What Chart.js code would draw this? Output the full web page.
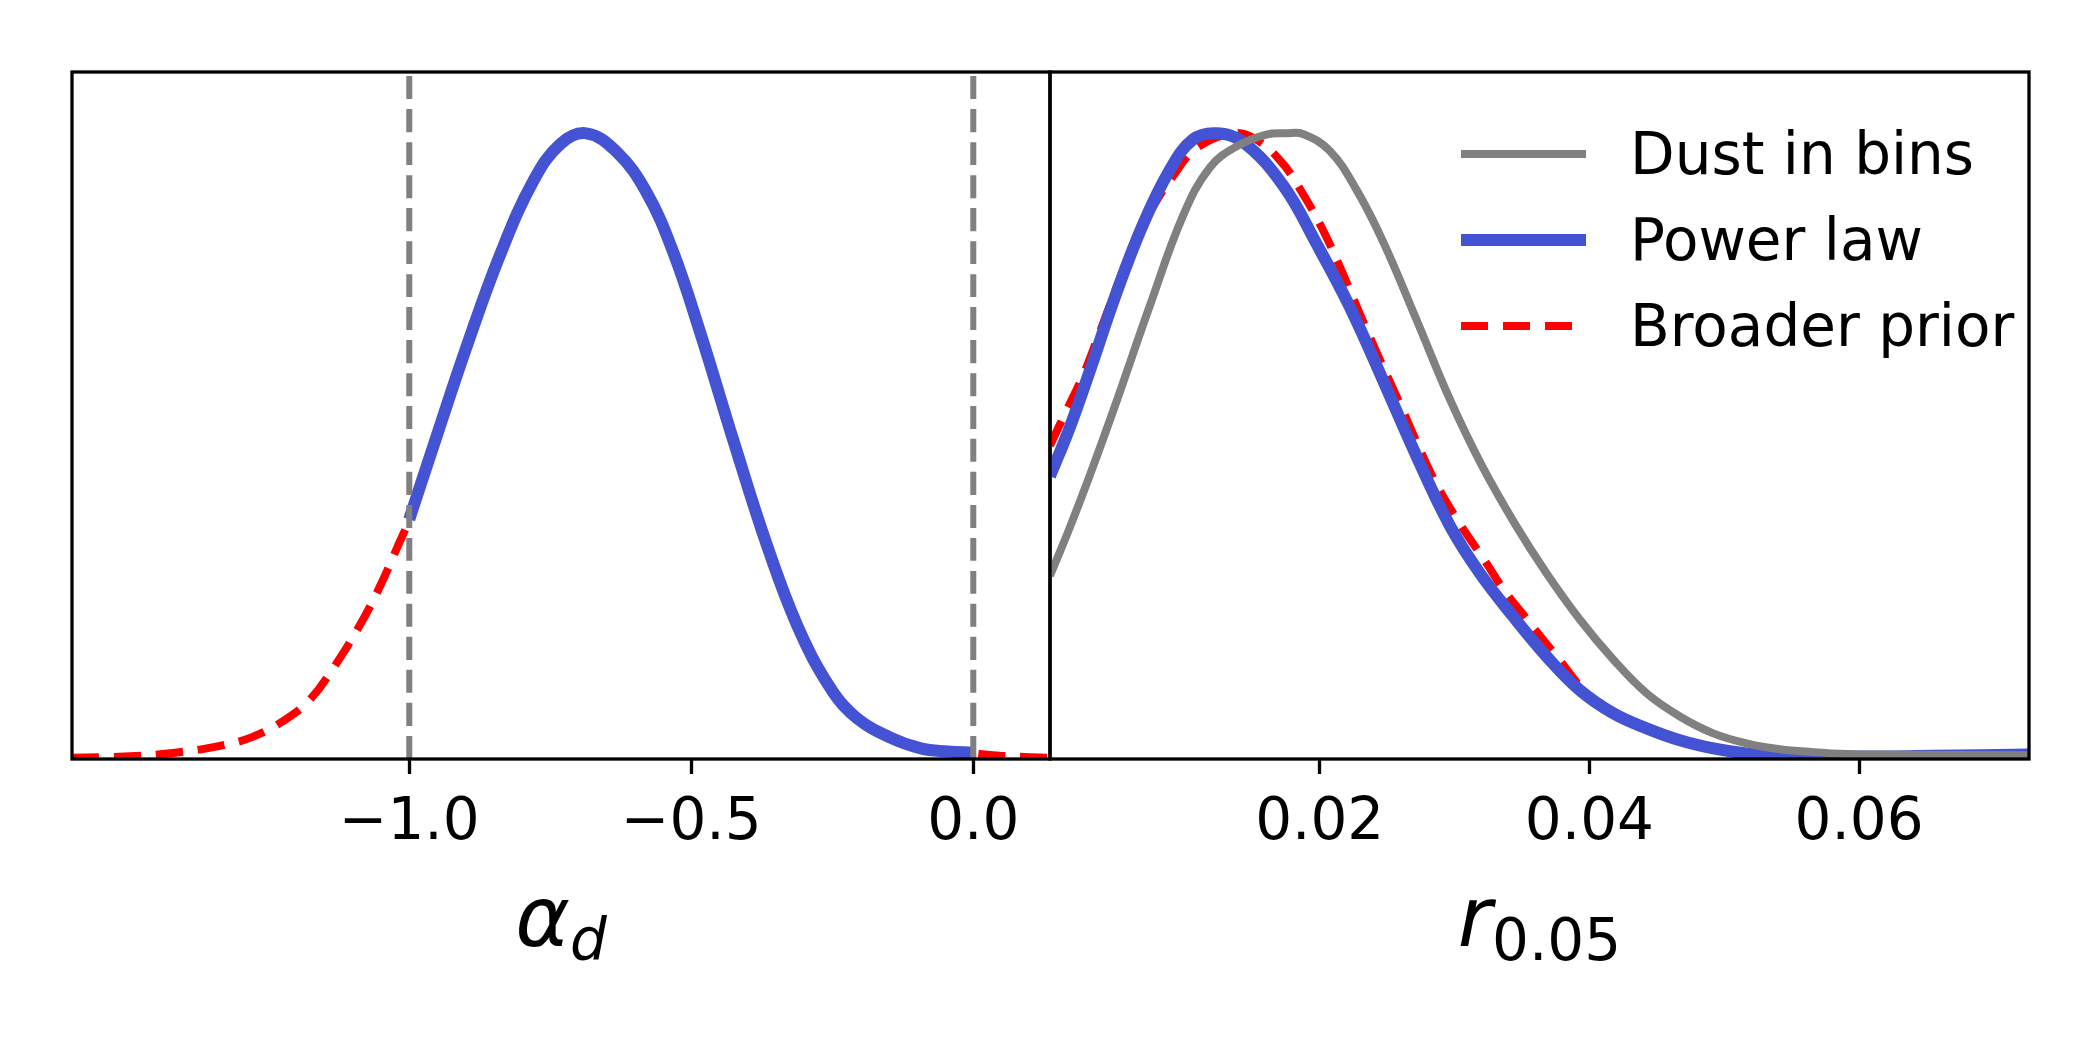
<!DOCTYPE html>
<html>
<head>
<meta charset="utf-8">
<script src="https://cdn.jsdelivr.net/npm/chart.js@4.4.1/dist/chart.umd.min.js"></script>
<style>
  html, body { margin: 0; padding: 0; background: #fff; }
  #wrap { position: relative; width: 2100px; height: 1050px; }
  canvas { position: absolute; left: 0; top: 0; }
</style>
</head>
<body>
<div id="wrap">
  <canvas id="alphaChart" width="2100" height="1050"></canvas>
  <canvas id="rChart" width="2100" height="1050"></canvas>
</div>
<script>
// --- data (curves normalised to peak = 1) ---

// left panel: alpha_d
const alphaTicks = [-1.0, -0.5, 0.0];
const alphaPriorEdges = [-1.0, 0.0];

const alphaPowerX = [-1.0, -0.957, -0.898, -0.839, -0.780, -0.732, -0.686, -0.632, -0.579, -0.532,
                     -0.484, -0.425, -0.366, -0.307, -0.248, -0.206, -0.149, -0.093, -0.045, 0.0];
const alphaPowerY = [0.383, 0.501, 0.660, 0.806, 0.924, 0.983, 1.0, 0.970, 0.905, 0.810,
                     0.681, 0.508, 0.342, 0.203, 0.106, 0.065, 0.035, 0.017, 0.012, 0.010];

const alphaBroadX = [-1.598, -1.505, -1.415, -1.336, -1.279, -1.223, -1.177, -1.132, -1.087, -1.053, -1.019,
                     -1.0, -0.957, -0.898, -0.839, -0.780, -0.732, -0.686, -0.632, -0.579, -0.532,
                     -0.484, -0.425, -0.366, -0.307, -0.248, -0.206, -0.149, -0.093, 0.0, 0.05, 0.1, 0.136];
const alphaBroadY = [0.002, 0.004, 0.010, 0.021, 0.035, 0.061, 0.094, 0.149, 0.215, 0.274, 0.343,
                     0.383, 0.501, 0.660, 0.806, 0.924, 0.983, 1.0, 0.970, 0.905, 0.810,
                     0.681, 0.508, 0.342, 0.203, 0.106, 0.065, 0.035, 0.017, 0.009, 0.005, 0.003, 0.002];

// right panel: r_0.05
const rTicks = [0.02, 0.04, 0.06];

const rDustX = [0, 0.00145, 0.00293, 0.00491, 0.00738, 0.00986, 0.01184, 0.01382, 0.01604, 0.01753,
                0.01876, 0.02074, 0.02272, 0.0247, 0.02718, 0.02965, 0.032, 0.0345, 0.03682, 0.03929,
                0.04177, 0.04424, 0.04671, 0.04919, 0.05166, 0.05414, 0.0566, 0.0591, 0.0616, 0.0726];
const rDustY = [0.293, 0.369, 0.452, 0.570, 0.723, 0.868, 0.945, 0.979, 0.998, 1.0,
                0.999, 0.972, 0.910, 0.827, 0.702, 0.575, 0.470, 0.375, 0.297, 0.223,
                0.159, 0.105, 0.068, 0.041, 0.025, 0.0155, 0.011, 0.008, 0.007, 0.006];

const rPowerX = [0, 0.00145, 0.00293, 0.00491, 0.00689, 0.00887, 0.0106, 0.01233, 0.01431, 0.01728,
                 0.01975, 0.02222, 0.0247, 0.02718, 0.02965, 0.03187, 0.03434, 0.03682, 0.03929, 0.04177,
                 0.04424, 0.04671, 0.04919, 0.05166, 0.05414, 0.0591, 0.0654, 0.0726];
const rPowerY = [0.452, 0.529, 0.619, 0.744, 0.854, 0.941, 0.990, 1.0, 0.986, 0.917,
                 0.824, 0.723, 0.605, 0.484, 0.373, 0.297, 0.228, 0.164, 0.110, 0.073,
                 0.049, 0.030, 0.017, 0.009, 0.006, 0.004, 0.005, 0.007];

const rBroadX = [0, 0.0012, 0.00243, 0.00367, 0.0059, 0.00763, 0.00911, 0.01085, 0.01357, 0.0153,
                 0.01728, 0.01876, 0.02025, 0.02173, 0.0235, 0.026, 0.0284, 0.03039, 0.03212, 0.0336,
                 0.03534, 0.03757, 0.04, 0.04177, 0.04424, 0.04671, 0.04919, 0.05166, 0.05414, 0.0591, 0.0726];
const rBroadY = [0.501, 0.556, 0.612, 0.681, 0.806, 0.882, 0.931, 0.976, 1.0, 0.990,
                 0.951, 0.903, 0.845, 0.775, 0.685, 0.565, 0.45, 0.376, 0.321, 0.272,
                 0.224, 0.164, 0.10, 0.075, 0.05, 0.030, 0.017, 0.009, 0.006, 0.004, 0.004];

const seriesNames = ['Dust in bins', 'Power law', 'Broader prior'];

// --- styles ---
const GRAY = '#808080';
const BLUE = '#4353d3';
const RED = '#ff0000';
const FONT = "'DejaVu Sans', 'Liberation Sans', sans-serif";
const Y_MAX = 1.098;

Chart.defaults.animation = false;
Chart.defaults.font.family = FONT;

const pts = (xs, ys) => xs.map((x, i) => ({ x: x, y: ys[i] }));
const vline = (x) => [{ x: x, y: 0 }, { x: x, y: Y_MAX }];

// frame around the plot area (all four spines)
const framePlugin = {
  id: 'frame',
  afterDatasetsDraw(chart) {
    const a = chart.chartArea, ctx = chart.ctx;
    ctx.save();
    ctx.strokeStyle = '#000';
    ctx.lineWidth = 3.3;
    ctx.strokeRect(a.left, a.top, a.right - a.left, a.bottom - a.top);
    ctx.restore();
  }
};

// axis label with a subscript, like matplotlib mathtext
const axisLabelPlugin = {
  id: 'axisLabel',
  afterDraw(chart, args, opts) {
    const a = chart.chartArea, ctx = chart.ctx;
    ctx.save();
    ctx.fillStyle = '#000';
    ctx.textBaseline = 'alphabetic';
    const mainFont = 'italic 83px ' + FONT;
    const subFont = (opts.subItalic ? 'italic ' : '') + '58px ' + FONT;
    ctx.font = mainFont;
    const w1 = ctx.measureText(opts.main).width;
    ctx.font = subFont;
    const w2 = ctx.measureText(opts.sub).width;
    const x0 = (a.left + a.right) / 2 - (w1 + w2) / 2;
    const base = a.bottom + 187;
    ctx.font = mainFont;
    ctx.fillText(opts.main, x0, base);
    ctx.font = subFont;
    ctx.fillText(opts.sub, x0 + w1, base + 14);
    ctx.restore();
  }
};

// legend drawn inside the right panel, no frame
const innerLegendPlugin = {
  id: 'innerLegend',
  afterDraw(chart, args, opts) {
    if (!opts.show) return;
    const a = chart.chartArea, ctx = chart.ctx;
    const rows = [
      { color: GRAY, width: 8, dash: [] },
      { color: BLUE, width: 12, dash: [] },
      { color: RED, width: 8, dash: [27, 15] }
    ];
    ctx.save();
    rows.forEach((r, i) => {
      const y = a.top + 82 + i * 86;
      ctx.strokeStyle = r.color;
      ctx.lineWidth = r.width;
      ctx.lineCap = 'butt';
      ctx.setLineDash(r.dash);
      ctx.beginPath();
      ctx.moveTo(a.left + 411, y);
      ctx.lineTo(a.left + 536, y);
      ctx.stroke();
      ctx.setLineDash([]);
      ctx.fillStyle = '#000';
      ctx.font = '58px ' + FONT;
      ctx.textBaseline = 'alphabetic';
      ctx.fillText(seriesNames[i], a.left + 580, y + 20);
    });
    ctx.restore();
  }
};

function lineSet(data, color, width, dash, order) {
  return {
    data: data,
    borderColor: color,
    borderWidth: width,
    borderDash: dash,
    borderCapStyle: 'butt',
    borderJoinStyle: 'round',
    pointRadius: 0,
    fill: false,
    tension: 0.4,
    order: order
  };
}

function makeOptions(xMin, xMax, ticks, fmt, padding, label, legend) {
  return {
    responsive: false,
    layout: { padding: padding },
    plugins: {
      legend: { display: false },
      tooltip: { enabled: false },
      axisLabel: label,
      innerLegend: { show: legend }
    },
    scales: {
      x: {
        type: 'linear',
        min: xMin,
        max: xMax,
        afterBuildTicks: (scale) => { scale.ticks = ticks.map(v => ({ value: v })); },
        afterFit: (scale) => { scale.height = 1050 - 759; },
        border: { display: false },
        grid: {
          drawOnChartArea: false,
          drawTicks: true,
          tickLength: 15,
          tickWidth: 3.3,
          tickColor: '#000'
        },
        ticks: {
          color: '#000',
          font: { size: 58 },
          padding: 15,
          maxRotation: 0,
          autoSkip: false,
          callback: fmt
        }
      },
      y: { display: false, min: 0, max: Y_MAX }
    }
  };
}

new Chart(document.getElementById('alphaChart'), {
  type: 'line',
  data: {
    datasets: [
      lineSet(vline(alphaPriorEdges[0]), GRAY, 6, [23, 10], 0),
      lineSet(vline(alphaPriorEdges[1]), GRAY, 6, [23, 10], 0),
      lineSet(pts(alphaPowerX, alphaPowerY), BLUE, 12, [], 1),
      lineSet(pts(alphaBroadX, alphaBroadY), RED, 8, [27, 15], 2)
    ]
  },
  options: makeOptions(-1.598, 0.136, alphaTicks,
    (v) => v.toFixed(1).replace('-', '\u2212'),
    { left: 72, top: 72, right: 1050, bottom: 0 },
    { main: '\u03b1', sub: 'd', subItalic: true }, false),
  plugins: [framePlugin, axisLabelPlugin, innerLegendPlugin]
});

new Chart(document.getElementById('rChart'), {
  type: 'line',
  data: {
    datasets: [
      lineSet(pts(rDustX, rDustY), GRAY, 8, [], 0),
      lineSet(pts(rPowerX, rPowerY), BLUE, 12, [], 1),
      lineSet(pts(rBroadX, rBroadY), RED, 8, [27, 15], 2)
    ]
  },
  options: makeOptions(0, 0.0726, rTicks,
    (v) => v.toFixed(2),
    { left: 1050, top: 72, right: 71, bottom: 0 },
    { main: 'r', sub: '0.05', subItalic: false }, true),
  plugins: [framePlugin, axisLabelPlugin, innerLegendPlugin]
});
</script>
</body>
</html>
